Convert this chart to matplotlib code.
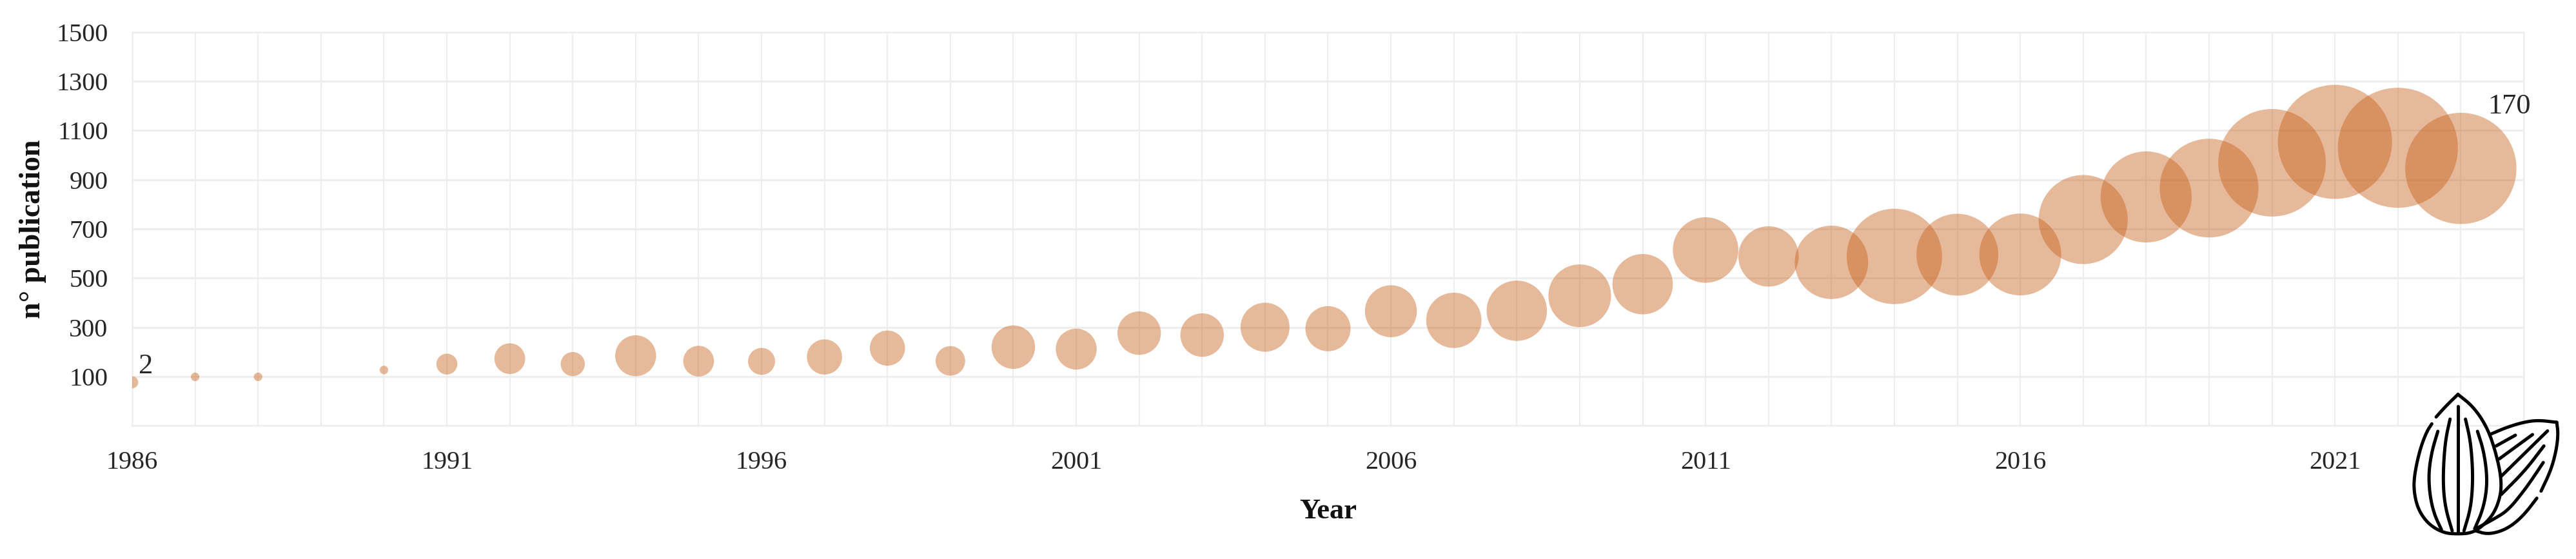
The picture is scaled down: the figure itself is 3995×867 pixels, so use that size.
import numpy as np
import matplotlib
matplotlib.use('Agg')
import matplotlib.pyplot as plt

years = [1986, 1987, 1988, 1990, 1991, 1992, 1993, 1994, 1995, 1996, 1997, 1998,
         1999, 2000, 2001, 2002, 2003, 2004, 2005, 2006, 2007, 2008, 2009, 2010,
         2011, 2012, 2013, 2014, 2015, 2016, 2017, 2018, 2019, 2020, 2021, 2022, 2023]
position = [76, 98, 98, 126, 150, 172, 150, 184, 162, 161, 179, 215,
            163, 219, 211, 276, 268, 300, 294, 365, 328, 367, 428, 475,
            614, 588, 564, 588, 595, 596, 738, 830, 866, 969, 1054, 1030, 946]
# bubble size = number of papers that year
papers = [2, 1, 1, 1, 6, 13, 8, 23, 13, 10, 17, 17,
          12, 26, 23, 26, 26, 33, 28, 37, 42, 50, 54, 50,
          59, 50, 74, 125, 92, 92, 109, 114, 134, 159, 179, 198, 170]
yticks = [100, 300, 500, 700, 900, 1100, 1300, 1500]
xticks = [1986, 1991, 1996, 2001, 2006, 2011, 2016, 2021]

W, H = 3995, 867
grid_color = '#eeeeee'
text_color = '#262626'

plt.rcParams['font.family'] = ['Liberation Serif', 'DejaVu Serif']

fig = plt.figure(figsize=(W / 100, H / 100), dpi=100)
ax = fig.add_axes([205 / W, (H - 660) / H, (3914 - 205) / W, 610 / H])

ax.scatter(years, position, s=np.array(papers) * 90.7, color='#C55A11', alpha=0.42,
           linewidths=0, zorder=3)

ax.set_xlim(1986, 2024)
ax.set_ylim(-100, 1500)
ax.set_xticks(np.arange(1986, 2025))
ax.set_xticklabels([str(y) if y in xticks else '' for y in range(1986, 2025)])
ax.set_yticks([-100] + yticks)
ax.set_yticklabels([''] + [str(y) for y in yticks])
ax.grid(True, axis='y', color=grid_color, linewidth=2.2)
ax.grid(True, axis='x', color=grid_color, linewidth=1.6)
ax.set_axisbelow(True)
for s in ax.spines.values():
    s.set_color(grid_color)
    s.set_linewidth(1.8)
ax.tick_params(axis='both', length=0, labelsize=29, labelcolor=text_color)
ax.tick_params(axis='x', pad=28)
ax.tick_params(axis='y', pad=27)

ax.set_xlabel('Year', fontsize=32, fontweight='bold', color='#111111', labelpad=27)
ax.set_ylabel('n° publication', fontsize=33, fontweight='bold', color='#111111', labelpad=11)

ax.annotate(str(papers[0]), (years[0], position[0]), xytext=(15, 18), textcoords='offset points',
            fontsize=32, color=text_color, ha='center', va='center')
ax.annotate(str(papers[-1]), (years[-1], position[-1]), xytext=(54, 69), textcoords='offset points',
            fontsize=32, color=text_color, ha='center', va='center')

# almond icon, traced in pixels of the crop at (3700, 600)
icon_strokes = [
    [(235, 140), (280, 90), (337, 35)],
    [(337, 35), (400, 85), (450, 150), (490, 230), (525, 350), (540, 440), (535, 510), (505, 590),
     (450, 650), (400, 680), (337, 685), (270, 680), (200, 640), (150, 570), (130, 480),
     (135, 400), (160, 290), (190, 210), (215, 172)],
    [(243, 207), (215, 300), (200, 400), (205, 500), (225, 590), (260, 665)],
    [(300, 150), (280, 240), (270, 350), (268, 470), (280, 570), (310, 670)],
    [(337, 90), (337, 680)],
    [(372, 150), (395, 250), (405, 370), (405, 470), (395, 570), (365, 670)],
    [(428, 207), (455, 290), (472, 400), (470, 490), (450, 580), (415, 660)],
    [(490, 220), (560, 190), (640, 165), (710, 155), (798, 165)],
    [(798, 165), (805, 220), (795, 300), (770, 390), (725, 485)],
    [(705, 518), (650, 590), (590, 645), (530, 675), (470, 685), (420, 670)],
    [(515, 275), (605, 225)],
    [(530, 335), (685, 222)],
    [(540, 415), (755, 205)],
    [(540, 500), (650, 390), (738, 275)],
    [(430, 655), (505, 615), (570, 575), (640, 490), (690, 420), (735, 352)],
]


def smooth(pts, n=3):
    # corner cutting, ends stay where they are
    pts = np.array(pts, dtype=float)
    for _ in range(n):
        a = pts[:-1] * 0.75 + pts[1:] * 0.25
        b = pts[:-1] * 0.25 + pts[1:] * 0.75
        mid = np.empty((len(a) * 2, 2))
        mid[0::2] = a
        mid[1::2] = b
        pts = np.vstack([pts[0], mid, pts[-1]])
    return pts


over = fig.add_axes([0, 0, 1, 1], zorder=5)
over.set_xlim(0, W)
over.set_ylim(H, 0)
over.axis('off')
for stroke in icon_strokes:
    p = smooth(stroke)
    over.plot(3700 + p[:, 0] / 3.01, 600 + p[:, 1] / 3.0, color='black', linewidth=3.6,
              solid_capstyle='round', solid_joinstyle='round')

plt.savefig('out.png', dpi=100, facecolor='white')
